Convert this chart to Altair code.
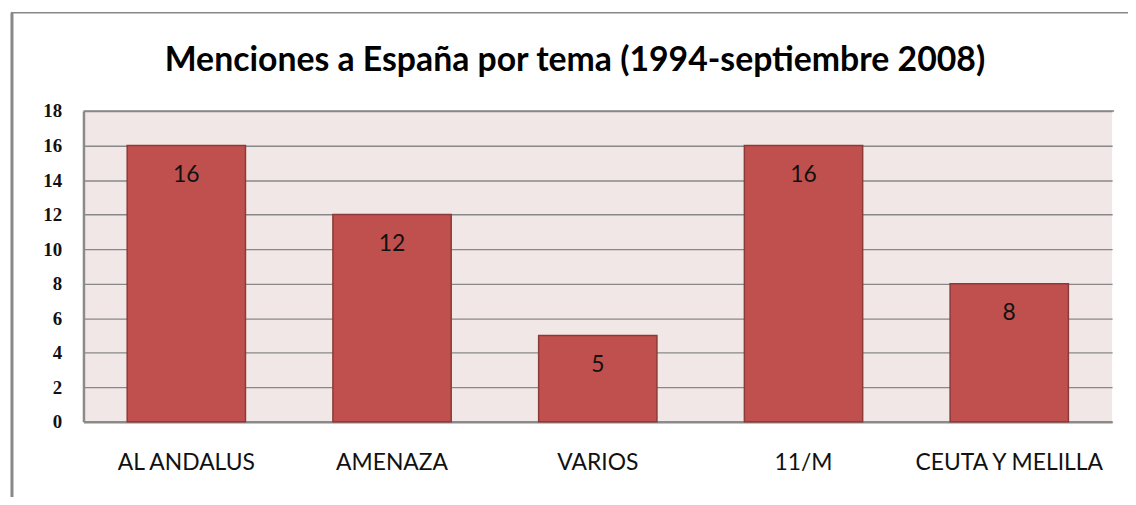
import altair as alt
import pandas as pd

categories = ["AL ANDALUS", "AMENAZA", "VARIOS", "11/M", "CEUTA Y MELILLA"]
values = [16, 12, 5, 16, 8]
y_ticks = [0, 2, 4, 6, 8, 10, 12, 14, 16, 18]
title_text = "Menciones a España por tema (1994-septiembre 2008)"

df = pd.DataFrame({"tema": categories, "menciones": values})

W, H = 1036, 313

x_enc = alt.X(
    "tema:N",
    sort=categories,
    scale=alt.Scale(paddingInner=0.425, paddingOuter=0.2125),
    axis=alt.Axis(
        title=None, labelAngle=0, ticks=False, grid=False,
        labelFont="Lato", labelFontSize=23, labelColor="#111111",
        labelPadding=30, labelLimit=400, labelOverlap=False,
        domainColor="#8a8a8a", domainWidth=2.5,
    ),
)
y_enc = alt.Y(
    "menciones:Q",
    scale=alt.Scale(domain=[0, 18], nice=False),
    axis=alt.Axis(
        title=None, values=y_ticks, ticks=False, grid=True,
        gridColor="#888888", gridWidth=1.3,
        labelFont="Liberation Serif", labelFontWeight="bold", labelFontSize=19,
        labelColor="#111111", labelPadding=22, labelOverlap=False,
        labelBound=False, labelFlush=False,
        domainColor="#8a8a8a", domainWidth=2.5,
    ),
)

base = alt.Chart(df)

bars = base.mark_bar(color="#C0504D", stroke="#8C3A38", strokeWidth=1.5).encode(
    x=x_enc, y=y_enc
)

labels = base.mark_text(
    font="Lato", fontSize=23, color="#111111", baseline="middle", dy=30
).encode(
    x=x_enc,
    y=y_enc,
    text=alt.Text("menciones:Q"),
)

title = alt.Chart(pd.DataFrame({"t": [title_text]})).mark_text(
    font="Lato", fontSize=34, fontWeight="bold", color="#000000",
    align="center", baseline="middle",
).encode(x=alt.value(495), y=alt.value(-50), text="t:N")

top_grid = alt.Chart(pd.DataFrame({"a": [0]})).mark_rule(
    color="#888888", strokeWidth=1.5
).encode(x=alt.value(0), x2=alt.value(W + 2), y=alt.value(0))

left_border = alt.Chart(pd.DataFrame({"a": [0]})).mark_rule(
    color="#888888", strokeWidth=3
).encode(x=alt.value(-72), y=alt.value(-99), y2=alt.value(395))

top_border = alt.Chart(pd.DataFrame({"a": [0]})).mark_rule(
    color="#888888", strokeWidth=1.5
).encode(x=alt.value(-73), x2=alt.value(1060), y=alt.value(-99))

chart = (
    alt.layer(bars, labels, title, top_grid, left_border, top_border)
    .properties(
        width=W, height=H,
        autosize=alt.AutoSizeParams(type="none"),
        padding={"left": 76, "top": 102, "right": 16, "bottom": 74},
        background="white",
    )
    .configure_view(fill="#F2E7E7", stroke=None)
)

chart.save("out.html", embed_options={"renderer": "svg", "actions": False})
